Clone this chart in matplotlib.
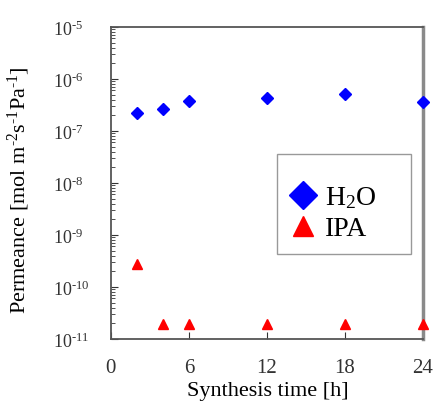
import numpy as np
import matplotlib
matplotlib.use('Agg')
import matplotlib.pyplot as plt
from matplotlib.ticker import LogLocator, FixedLocator, FuncFormatter
from matplotlib.patches import Rectangle

plt.rcParams['font.family'] = ['Liberation Serif', 'DejaVu Serif']
plt.rcParams['mathtext.fontset'] = 'custom'
plt.rcParams['mathtext.rm'] = 'Liberation Serif'
plt.rcParams['mathtext.it'] = 'Liberation Serif:italic'
plt.rcParams['mathtext.default'] = 'regular'

time_h = [2, 4, 6, 12, 18, 24]
h2o_permeance = [2.2e-7, 2.65e-7, 3.8e-7, 4.3e-7, 5.1e-7, 3.6e-7]
ipa_permeance = [2.7e-10, 1.9e-11, 1.9e-11, 1.9e-11, 1.9e-11, 1.9e-11]
x_ticks = [0, 6, 12, 18, 24]

fig = plt.figure(figsize=(4.33, 4.10), dpi=100)
ax = fig.add_axes([0.256, 0.171, 0.721, 0.761])

ax.plot(time_h, h2o_permeance, linestyle='none', marker='D', color='#0000ff',
        markersize=6.5, label='H$_2$O', clip_on=False, zorder=3)
ax.plot(time_h, ipa_permeance, linestyle='none', marker='^', color='#ff0000',
        markersize=6.5, label='IPA', clip_on=False, zorder=3)

ax.set_yscale('log')
ax.set_ylim(1e-11, 1e-5)
ax.set_xlim(0, 24)
ax.xaxis.set_major_locator(FixedLocator(x_ticks))
ax.yaxis.set_major_locator(LogLocator(base=10, numticks=10))
ax.yaxis.set_minor_locator(LogLocator(base=10, subs=range(2, 10), numticks=20))
ax.yaxis.set_major_formatter(FuncFormatter(
    lambda v, p: '10$^{\\text{-%d}}$' % round(-np.log10(v))))

ax.tick_params(axis='both', which='both', direction='in', colors='#333333')
ax.tick_params(axis='x', which='major', length=5, pad=14, labelsize=15)
ax.tick_params(axis='y', which='major', length=5, pad=42, labelsize=13)
ax.tick_params(axis='y', which='minor', length=3)
ax.tick_params(axis='x', which='minor', bottom=False)
for lbl in ax.get_yticklabels():
    lbl.set_horizontalalignment('left')

for s in ['left', 'bottom', 'top']:
    ax.spines[s].set_color('#555555')
    ax.spines[s].set_linewidth(1.3)
ax.spines['right'].set_color('#8a8a8a')
ax.spines['right'].set_linewidth(2.5)

ax.set_xlabel('Synthesis time [h]', fontsize=16, va='top')
ax.xaxis.set_label_coords(0.503, -0.135)
ax.set_ylabel('Permeance [mol m$^{\\text{-2}}$s$^{\\text{-1}}$Pa$^{\\text{-1}}$]', fontsize=16)
ax.yaxis.set_label_coords(-0.253, 0.48)

# legend frame drawn as its own box, the legend entries sit inside it
ax.add_patch(Rectangle((0.532, 0.272), 0.429, 0.321, transform=ax.transAxes,
                       fill=False, edgecolor='#999999', linewidth=1.0, zorder=4))
leg = ax.legend(loc='upper left', bbox_to_anchor=(0.574, 0.495), fontsize=20,
                frameon=False, borderpad=0, borderaxespad=0,
                handletextpad=0.35, handlelength=0.9,
                markerscale=2.2, labelspacing=0.2)

fig.savefig('out.png', dpi=100)
